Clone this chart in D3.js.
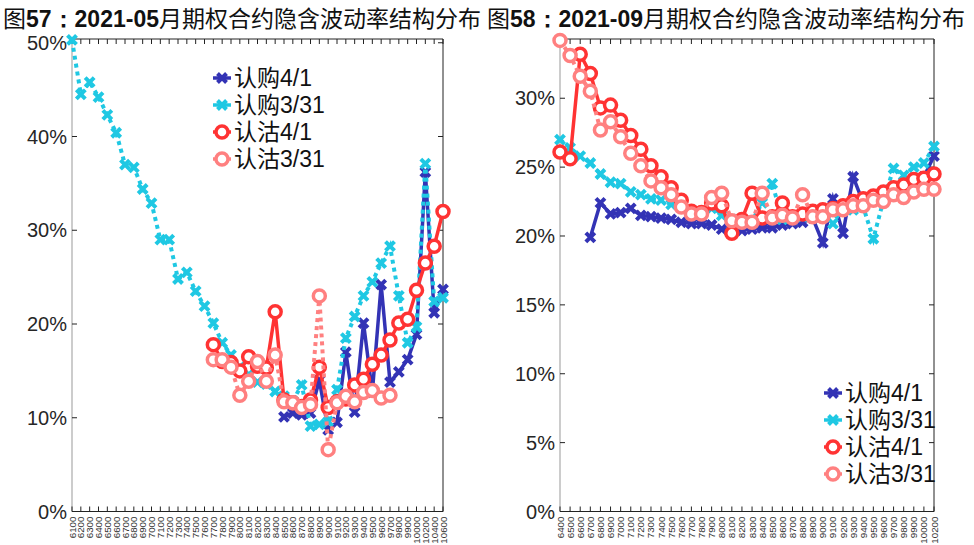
<!DOCTYPE html>
<html>
<head>
<meta charset="utf-8">
<script src="https://cdn.jsdelivr.net/npm/d3@7"></script>
<style>
  body { margin: 0; background: #fff; }
  svg { display: block; font-family: "Liberation Sans", Arial, "Noto Sans CJK SC", sans-serif; }
</style>
</head>
<body>
<div id="chart"></div>
<script>
// ---- data (implied vol, %) ----
const strikes05 = [6100,6200,6300,6400,6500,6600,6700,6800,6900,7000,7100,7200,7300,7400,7500,7600,7700,7800,7900,
  8000,8100,8200,8300,8400,8500,8600,8700,8800,8900,9000,9100,9200,9300,9400,9500,9600,9700,9800,9900,10000,10200,10400,10600];
const call05_0401 = [null,null,null,null,null,null,null,null,null,null,null,null,null,null,null,null,null,null,null,null,null,null,null,null,
  10.1,10.5,10.3,10.5,14.0,8.7,9.5,17.0,10.6,20.1,12.7,24.2,13.8,14.9,16.2,18.9,36.2,21.2,23.7];
const call05_0331 = [50.3,44.5,45.8,44.2,42.3,40.4,37.0,36.7,34.4,32.9,29.0,29.0,24.8,25.5,23.5,21.9,20.1,18.0,16.7,
  15.4,14.6,13.8,13.6,12.8,12.3,11.8,13.5,9.1,9.3,9.6,13.0,18.5,20.8,23.0,24.5,26.5,28.3,23.0,18.0,19.7,37.1,22.4,22.8];
const put05_0401 = [null,null,null,null,null,null,null,null,null,null,null,null,null,null,null,null,
  17.8,16.0,15.9,15.0,16.5,15.5,15.3,21.3,11.9,11.6,11.2,11.9,15.4,11.1,11.7,12.0,13.5,14.1,15.7,16.7,18.3,20.1,20.5,23.6,26.5,28.3,32.0];
const put05_0331 = [null,null,null,null,null,null,null,null,null,null,null,null,null,null,null,null,
  16.2,16.2,15.4,12.4,13.9,16.0,13.9,16.7,11.7,11.6,11.1,11.4,23.0,6.6,11.6,12.3,11.7,12.7,12.9,12.1,12.4,null,null,null,null,null,null];

const strikes09 = [6400,6500,6600,6700,6800,6900,7000,7100,7200,7300,7400,7500,7600,7700,7800,7900,
  8000,8100,8200,8300,8400,8500,8600,8700,8800,8900,9000,9100,9200,9300,9400,9500,9600,9700,9800,9900,10000,10200];
const call09_0401 = [null,null,null,19.9,22.4,21.6,21.7,22.0,21.5,21.4,21.3,21.2,21.0,20.9,20.9,20.8,20.5,20.4,20.4,
  20.5,20.6,20.6,20.8,20.9,21.0,21.3,19.5,22.7,20.2,24.3,22.4,22.7,23.1,23.4,23.6,23.9,24.3,25.8];
const call09_0331 = [27.0,26.4,25.8,25.3,24.5,23.9,23.8,23.2,23.0,22.7,22.6,22.3,22.1,21.7,21.6,22.0,21.5,21.2,21.0,
  21.1,22.4,23.8,21.2,21.3,21.4,21.5,21.6,20.9,22.1,21.9,22.1,19.8,22.6,24.9,24.4,25.0,25.3,26.5];
const put09_0401 = [26.1,25.6,33.2,31.8,29.3,29.5,28.4,27.3,26.3,25.1,24.3,23.5,22.6,21.8,21.7,22.4,22.2,20.2,21.2,
  23.1,21.3,21.4,22.4,21.4,21.6,21.8,21.9,22.0,22.2,22.5,22.7,22.9,23.2,23.5,23.7,24.1,24.2,24.5];
const put09_0331 = [34.2,33.1,31.6,30.5,27.7,28.3,27.2,26.0,25.1,24.0,23.5,23.0,22.1,21.6,21.6,22.8,23.1,21.1,21.0,
  21.0,23.1,21.3,21.5,21.3,23.0,21.4,21.4,21.9,21.9,22.2,22.2,22.6,22.5,23.0,22.8,23.2,23.4,23.4];

const seriesNames = ["认购4/1", "认购3/31", "认沽4/1", "认沽3/31"];

const width = 974, height = 545;
const svg = d3.select("#chart").append("svg")
    .attr("width", width)
    .attr("height", height);

const styles = [
  { color: "#3333b5", dash: null, marker: "x" },
  { color: "#1fc8e3", dash: "4,4", marker: "x" },
  { color: "#ff3333", dash: null, marker: "o" },
  { color: "#ff8080", dash: "4,4", marker: "o" }
];

function drawMarker(g, type, color, x, y) {
  if (type === "x") {
    const s = 4.5;
    g.append("path")
      .attr("d", `M${x-s},${y-s}L${x+s},${y+s}M${x-s},${y+s}L${x+s},${y-s}`)
      .attr("stroke", color).attr("stroke-width", 4).attr("fill", "none");
  } else {
    g.append("circle").attr("cx", x).attr("cy", y).attr("r", 6)
      .attr("fill", "#fff").attr("stroke", color).attr("stroke-width", 3.5);
  }
}

function panel(opts) {
  const { x0, x1, y0, y1, strikes, series, yMax, yTicks, title, titleX, legendX, legendY } = opts;
  const g = svg.append("g");

  const x = d3.scalePoint().domain(strikes).range([x0, x1]);
  const y = d3.scaleLinear().domain([0, yMax]).range([y1, y0]);

  // frame
  g.append("line").attr("x1", x0).attr("x2", x0).attr("y1", y0).attr("y2", y1).attr("stroke", "#999");
  g.append("line").attr("x1", x0).attr("x2", x1).attr("y1", y0).attr("y2", y0).attr("stroke", "#222");
  g.append("line").attr("x1", x1).attr("x2", x1).attr("y1", y0).attr("y2", y1).attr("stroke", "#222");
  g.append("line").attr("x1", x0).attr("x2", x1).attr("y1", y1).attr("y2", y1).attr("stroke", "#222");

  // y ticks
  yTicks.forEach(t => {
    const yy = y(t);
    g.append("line").attr("x1", x0).attr("x2", x0 + 5).attr("y1", yy).attr("y2", yy).attr("stroke", "#222");
    g.append("line").attr("x1", x1).attr("x2", x1 - 5).attr("y1", yy).attr("y2", yy).attr("stroke", "#222");
    g.append("text").attr("x", x0 - 5).attr("y", yy).attr("dy", "0.36em")
      .attr("text-anchor", "end").attr("font-size", 20).attr("fill", "#262626")
      .text(d3.format(".0f")(t) + "%");
  });

  // x ticks + labels
  strikes.forEach(s => {
    const xx = x(s);
    g.append("line").attr("x1", xx).attr("x2", xx).attr("y1", y1).attr("y2", y1 - 5).attr("stroke", "#222");
    g.append("line").attr("x1", xx).attr("x2", xx).attr("y1", y0).attr("y2", y0 + 5).attr("stroke", "#222");
    g.append("text")
      .attr("transform", `translate(${xx + 3.5},${y1 + 5}) rotate(-90)`)
      .attr("text-anchor", "end").attr("font-size", 9.8).attr("fill", "#333")
      .text(s);
  });

  const line = d3.line()
    .defined(d => d[1] != null)
    .x(d => x(d[0]))
    .y(d => y(d[1]));

  series.forEach((vals, i) => {
    const st = styles[i];
    const pts = strikes.map((s, k) => [s, vals[k]]);
    g.append("path").datum(pts)
      .attr("d", line)
      .attr("fill", "none")
      .attr("stroke", st.color)
      .attr("stroke-width", st.dash ? 4 : 3.5)
      .attr("stroke-dasharray", st.dash);
    const mg = g.append("g");
    pts.filter(d => d[1] != null).forEach(d => drawMarker(mg, st.marker, st.color, x(d[0]), y(d[1])));
  });

  // legend
  seriesNames.forEach((name, i) => {
    const ly = legendY + i * 27;
    const st = styles[i];
    g.append("line").attr("x1", legendX - 9).attr("x2", legendX + 9).attr("y1", ly).attr("y2", ly)
      .attr("stroke", st.color).attr("stroke-width", 3.5);
    drawMarker(g, st.marker, st.color, legendX, ly);
    g.append("text").attr("x", legendX + 12).attr("y", ly).attr("dy", "0.36em")
      .attr("font-size", 23).attr("fill", "#111")
      .text(name);
  });

  // title
  const t = g.append("text").attr("x", titleX).attr("y", 27).attr("font-size", 23).attr("fill", "#111")
    .attr("font-family", "'Noto Sans CJK SC', sans-serif");
  t.append("tspan").text(title[0]);
  t.append("tspan").attr("font-weight", "bold").attr("font-family", "'Liberation Sans', sans-serif").text(title[1]);
  t.append("tspan").text(title[2]);
}

panel({
  x0: 72, x1: 443, y0: 39, y1: 511.5,
  strikes: strikes05,
  series: [call05_0401, call05_0331, put05_0401, put05_0331],
  yMax: 50.4, yTicks: [0, 10, 20, 30, 40, 50],
  title: ["图", "57：2021-05", "月期权合约隐含波动率结构分布"], titleX: 3,
  legendX: 222, legendY: 78
});

panel({
  x0: 560, x1: 934, y0: 39, y1: 511.5,
  strikes: strikes09,
  series: [call09_0401, call09_0331, put09_0401, put09_0331],
  yMax: 34.3, yTicks: [0, 5, 10, 15, 20, 25, 30],
  title: ["图", "58：2021-09", "月期权合约隐含波动率结构分布"], titleX: 487,
  legendX: 833, legendY: 393
});
</script>
</body>
</html>
